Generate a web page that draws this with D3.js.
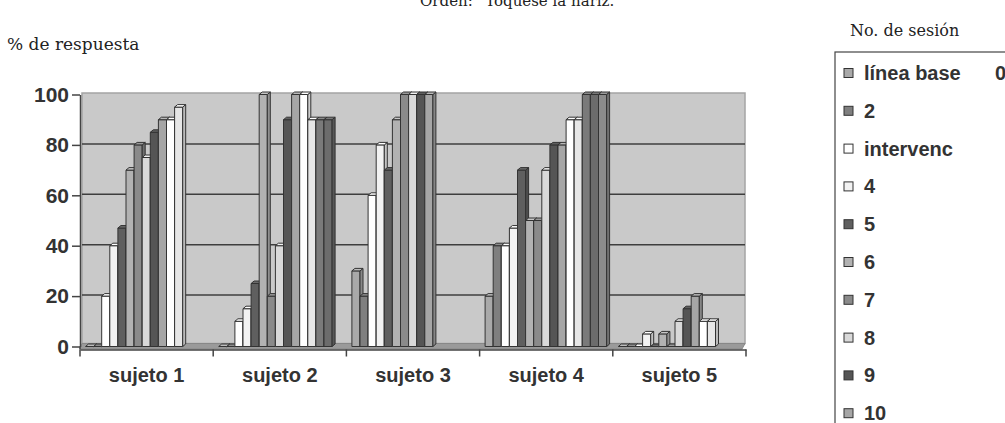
<!DOCTYPE html>
<html>
<head>
<meta charset="utf-8">
<script src="https://cdn.jsdelivr.net/npm/d3@7"></script>
<style>
  body { margin:0; background:#fff; }
  svg { display:block; }
</style>
</head>
<body>
<div id="chart"></div>
<script>

// --------------------------------
// data
// --------------------------------

var subjects = ["sujeto 1","sujeto 2","sujeto 3","sujeto 4","sujeto 5"];

var sessionLabels = ["línea base","2","intervenc","4","5","6","7","8","9","10","11","12","13","14","15"];

var sessionColors = ["#a9a9a9","#7f7f7f","#ffffff","#f2f2f2","#5f5f5f","#b2b2b2","#8a8a8a","#d9d9d9",
                     "#555555","#a6a6a6","#ffffff","#e6e6e6","#7a7a7a","#6c6c6c","#8c8c8c"];

// one row per session, one value per subject (null = no session)
var respuesta = [
	[0,   0,   30,  20,  0],
	[0,   0,   20,  40,  0],
	[20,  10,  60,  40,  0],
	[40,  15,  80,  47,  5],
	[47,  25,  70,  70,  0],
	[70,  100, 90,  50,  5],
	[80,  20,  100, 50,  0],
	[75,  40,  100, 70,  10],
	[85,  90,  100, 80,  15],
	[90,  100, 100, 80,  20],
	[90,  100, null, 90, 10],
	[95,  90,  null, 90, 10],
	[null,90,  null, 100, null],
	[null,90,  null, 100, null],
	[null,null,null, 100, null]
];

var yTicks = [0,20,40,60,80,100];

// --------------------------------
// layout
// --------------------------------

var width = 1005, height = 423;
var dx = 3, dy = 2.5;           // 3D depth of the columns
var sansBold = "'Liberation Sans', Arial, sans-serif";
var serif = "'DejaVu Serif', serif";

var svg = d3.select("#chart").append("svg")
	.attr("width", width)
	.attr("height", height);

var x0 = d3.scaleBand().domain(subjects).range([80, 746]);
var x1 = d3.scaleBand().domain(d3.range(sessionLabels.length)).range([5.5, 5.5 + 8.1*sessionLabels.length]);
var y = d3.scaleLinear().domain([0,100]).range([346.5, 94.5]);

// --------------------------------
// titles
// --------------------------------

// the page title is cut by the top edge in the original scan
svg.append("text")
	.attr("x", 521).attr("y", 6)
	.attr("text-anchor", "middle")
	.attr("style", "font-family:"+serif+";font-size:15px;fill:#222")
	.text("Orden: “Tóquese la nariz.”");

svg.append("text")
	.attr("x", 7).attr("y", 50)
	.attr("style", "font-family:"+serif+";font-size:17px;fill:#222")
	.text("% de respuesta");

svg.append("text")
	.attr("x", 850).attr("y", 36)
	.attr("style", "font-family:"+serif+";font-size:16px;fill:#222")
	.text("No. de sesión");

// --------------------------------
// walls, floor and gridlines
// --------------------------------

var wallL = 82, wallR = 745, wallT = y(100) - 1.5, wallB = y(0) - 3;

svg.append("rect")
	.attr("x", wallL).attr("y", wallT)
	.attr("width", wallR - wallL).attr("height", wallB - wallT)
	.attr("style", "fill:#c9c9c9;stroke:#a4a4a4;stroke-width:1.5");

svg.append("path")
	.attr("d", "M"+80+","+(y(0)+2.5)+" L"+(wallR-3)+","+(y(0)+2.5)+" L"+wallR+","+wallB+" L"+wallL+","+wallB+" Z")
	.attr("style", "fill:#9a9a9a;stroke:#888;stroke-width:1");

svg.append("g").selectAll("line")
	.data(yTicks.filter(function(d){ return d > 0 && d < 100; }))
	.join("line")
	.attr("x1", wallL).attr("x2", wallR)
	.attr("y1", function(d){ return y(d) - 1; })
	.attr("y2", function(d){ return y(d) - 1; })
	.attr("style", "stroke:#3e3e3e;stroke-width:1.5");

// --------------------------------
// 3D columns
// --------------------------------

var bars = svg.append("g");

subjects.forEach(function(subj, s){
	respuesta.forEach(function(row, i){
		var v = row[s];
		if (v === null) return;
		var x = x0(subj) + x1(i);
		var w = x1.bandwidth();
		var yv = y(v), yb = y(0);
		var c = d3.color(sessionColors[i]);
		var szSide = c.darker(0.6).formatHex();
		var szTop = c.brighter(0.3).formatHex();
		var szStroke = "stroke:#333;stroke-width:1;stroke-linejoin:round;";

		bars.append("rect")
			.attr("x", x).attr("y", yv)
			.attr("width", w).attr("height", yb - yv)
			.attr("style", "fill:"+sessionColors[i]+";"+szStroke);
		bars.append("path")
			.attr("d", "M"+(x+w)+","+yv+" l"+dx+","+(-dy)+" L"+(x+w+dx)+","+(yb-dy)+" L"+(x+w)+","+yb+" Z")
			.attr("style", "fill:"+szSide+";"+szStroke);
		bars.append("path")
			.attr("d", "M"+x+","+yv+" l"+dx+","+(-dy)+" l"+w+",0 l"+(-dx)+","+dy+" Z")
			.attr("style", "fill:"+szTop+";"+szStroke);
	});
});

// --------------------------------
// axes
// --------------------------------

var yAxis = svg.append("g")
	.attr("transform", "translate(80,0)")
	.call(d3.axisLeft(y).tickValues(yTicks).tickSize(8).tickSizeOuter(0).tickPadding(3));
yAxis.select(".domain").attr("style", "stroke:#444;stroke-width:1.5");
yAxis.selectAll(".tick line").attr("style", "stroke:#444;stroke-width:1.5");
yAxis.selectAll("text")
	.attr("style", "font-family:"+sansBold+";font-weight:bold;font-size:21px;fill:#333");

svg.append("line")
	.attr("x1", 80).attr("x2", 80)
	.attr("y1", y(0)).attr("y2", y(0) + 3)
	.attr("style", "stroke:#444;stroke-width:1.5");

var xAxis = svg.append("g")
	.attr("transform", "translate(0,"+(y(0)+3)+")")
	.call(d3.axisBottom(x0).tickSize(0).tickSizeOuter(0).tickPadding(18));
xAxis.select(".domain").attr("style", "stroke:#444;stroke-width:1.5");
xAxis.selectAll("text")
	.attr("style", "font-family:"+sansBold+";font-weight:bold;font-size:20px;fill:#333");

// category boundary ticks
xAxis.append("g").selectAll("line")
	.data(subjects.map(function(d){ return x0(d); }).concat([x0.range()[1]]))
	.join("line")
	.attr("x1", function(d){ return d; }).attr("x2", function(d){ return d; })
	.attr("y1", 0).attr("y2", 7)
	.attr("style", "stroke:#444;stroke-width:1.5");

// --------------------------------
// legend (box runs off the page)
// --------------------------------

var legend = svg.append("g");

legend.append("rect")
	.attr("x", 835).attr("y", 52)
	.attr("width", 200).attr("height", 400)
	.attr("style", "fill:#fff;stroke:#444;stroke-width:1.2");

var rowH = 37.8, row0 = 73;
var rows = sessionLabels.map(function(d, i){ return {label:d, color:sessionColors[i], cy: row0 + i*rowH}; })
	.filter(function(d){ return d.cy < height - 5; });

legend.selectAll("rect.swatch")
	.data(rows)
	.join("rect")
	.attr("class", "swatch")
	.attr("x", 844).attr("y", function(d){ return d.cy - 4.5; })
	.attr("width", 9).attr("height", 9)
	.attr("style", function(d){ return "fill:"+d.color+";stroke:#333;stroke-width:1"; });

legend.selectAll("text.lbl")
	.data(rows)
	.join("text")
	.attr("class", "lbl")
	.attr("x", 864).attr("y", function(d){ return d.cy + 7; })
	.attr("style", "font-family:"+sansBold+";font-weight:bold;font-size:20px;fill:#333")
	.text(function(d){ return d.label; });

legend.append("text")
	.attr("x", 995).attr("y", row0 + 7)
	.attr("style", "font-family:"+sansBold+";font-weight:bold;font-size:20px;fill:#333")
	.text("0");

</script>
</body>
</html>
